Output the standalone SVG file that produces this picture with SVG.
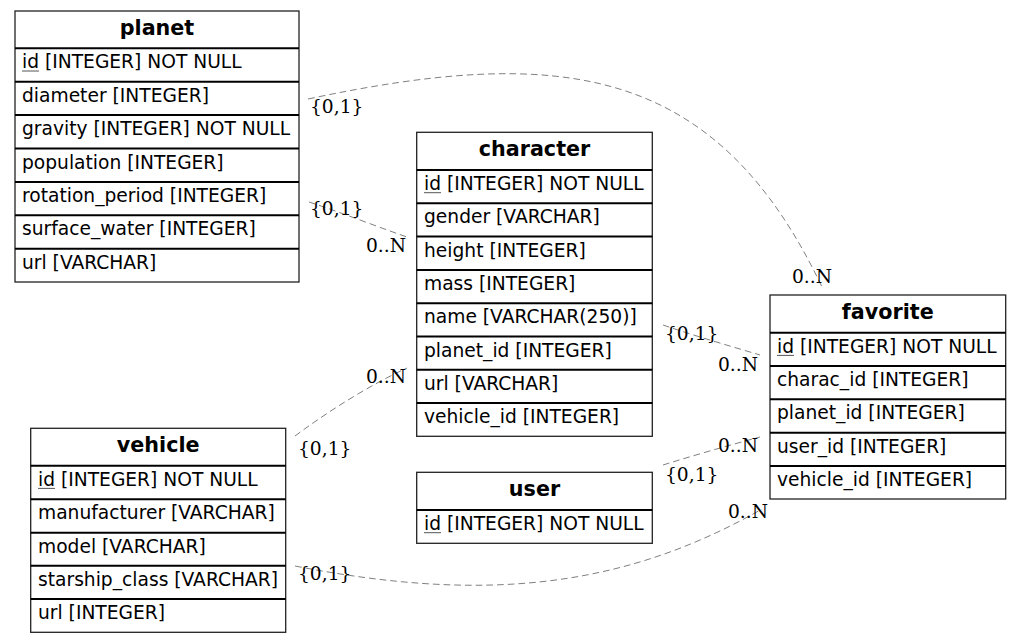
<svg xmlns="http://www.w3.org/2000/svg" width="1021" height="643" viewBox="0 0 1021 643">
<style>
.bg{fill:#ffffff}
.box{fill:#ffffff;stroke:#222222;stroke-width:1.3}
.sep{stroke:#000000;stroke-width:2}
.hd{font-family:"DejaVu Sans",Verdana,sans-serif;font-weight:bold;font-size:20.7px;fill:#000;text-anchor:middle}
.rw{font-family:"DejaVu Sans",Verdana,sans-serif;font-size:18.67px;fill:#000}
.ul{stroke:#555555;stroke-width:1}
.edge{fill:none;stroke:#808080;stroke-width:1;stroke-dasharray:6.7,4}
.lb{font-family:"DejaVu Serif","Liberation Serif",serif;font-size:18.67px;fill:#000}
</style>
<rect class="bg" x="0" y="0" width="1021" height="643"/>

<g id="connectors">
<path class="edge" d="M308,99 C558,46 715,62 822,287"/>
<path class="edge" d="M309,202 C340,212 375,226 407,237"/>
<path class="edge" d="M295,436 C330,410 370,385 407,368"/>
<path class="edge" d="M663,325 C695,336 730,346 760,355"/>
<path class="edge" d="M663,465 C695,455 730,445 760,437"/>
<path class="edge" d="M295,566 C480,602 620,590 762,509"/>
<text class="lb" x="310" y="113">{0,1}</text>
<text class="lb" x="792" y="283">0..N</text>
<text class="lb" x="310" y="215">{0,1}</text>
<text class="lb" x="366" y="252">0..N</text>
<text class="lb" x="298" y="455">{0,1}</text>
<text class="lb" x="366" y="383">0..N</text>
<text class="lb" x="665" y="340">{0,1}</text>
<text class="lb" x="718" y="371">0..N</text>
<text class="lb" x="665" y="481">{0,1}</text>
<text class="lb" x="718" y="452">0..N</text>
<text class="lb" x="298" y="580">{0,1}</text>
<text class="lb" x="728" y="518">0..N</text>
</g>

<g id="planet">
<rect class="box" x="15" y="11" width="284" height="271"/>
<line class="sep" x1="15" y1="48.3" x2="299" y2="48.3"/>
<line class="sep" x1="15" y1="81.7" x2="299" y2="81.7"/>
<line class="sep" x1="15" y1="115" x2="299" y2="115"/>
<line class="sep" x1="15" y1="148.5" x2="299" y2="148.5"/>
<line class="sep" x1="15" y1="182" x2="299" y2="182"/>
<line class="sep" x1="15" y1="215.3" x2="299" y2="215.3"/>
<line class="sep" x1="15" y1="248.7" x2="299" y2="248.7"/>
<text class="hd" x="157" y="34.5">planet</text>
<text class="rw" x="22" y="68.3">id [INTEGER] NOT NULL</text>
<line class="ul" x1="22" y1="71" x2="39" y2="71"/>
<text class="rw" x="22" y="101.7">diameter [INTEGER]</text>
<text class="rw" x="22" y="135">gravity [INTEGER] NOT NULL</text>
<text class="rw" x="22" y="168.5">population [INTEGER]</text>
<text class="rw" x="22" y="202">rotation_period [INTEGER]</text>
<text class="rw" x="22" y="235.3">surface_water [INTEGER]</text>
<text class="rw" x="22" y="268.7">url [VARCHAR]</text>
</g>

<g id="character">
<rect class="box" x="416.7" y="132.3" width="235.6" height="304"/>
<line class="sep" x1="416.7" y1="170" x2="652.3" y2="170"/>
<line class="sep" x1="416.7" y1="203.3" x2="652.3" y2="203.3"/>
<line class="sep" x1="416.7" y1="236.6" x2="652.3" y2="236.6"/>
<line class="sep" x1="416.7" y1="270" x2="652.3" y2="270"/>
<line class="sep" x1="416.7" y1="303.2" x2="652.3" y2="303.2"/>
<line class="sep" x1="416.7" y1="336.5" x2="652.3" y2="336.5"/>
<line class="sep" x1="416.7" y1="369.8" x2="652.3" y2="369.8"/>
<line class="sep" x1="416.7" y1="403.1" x2="652.3" y2="403.1"/>
<text class="hd" x="534.5" y="155.8">character</text>
<text class="rw" x="424" y="190">id [INTEGER] NOT NULL</text>
<line class="ul" x1="424" y1="192.7" x2="441" y2="192.7"/>
<text class="rw" x="424" y="223.3">gender [VARCHAR]</text>
<text class="rw" x="424" y="256.6">height [INTEGER]</text>
<text class="rw" x="424" y="290">mass [INTEGER]</text>
<text class="rw" x="424" y="323.2">name [VARCHAR(250)]</text>
<text class="rw" x="424" y="356.5">planet_id [INTEGER]</text>
<text class="rw" x="424" y="389.8">url [VARCHAR]</text>
<text class="rw" x="424" y="423.1">vehicle_id [INTEGER]</text>
</g>

<g id="favorite">
<rect class="box" x="770" y="295" width="235.7" height="204"/>
<line class="sep" x1="770" y1="332.7" x2="1005.7" y2="332.7"/>
<line class="sep" x1="770" y1="366" x2="1005.7" y2="366"/>
<line class="sep" x1="770" y1="399.3" x2="1005.7" y2="399.3"/>
<line class="sep" x1="770" y1="432.7" x2="1005.7" y2="432.7"/>
<line class="sep" x1="770" y1="466" x2="1005.7" y2="466"/>
<text class="hd" x="887.8" y="318.5">favorite</text>
<text class="rw" x="777" y="352.7">id [INTEGER] NOT NULL</text>
<line class="ul" x1="777" y1="355.4" x2="794" y2="355.4"/>
<text class="rw" x="777" y="386">charac_id [INTEGER]</text>
<text class="rw" x="777" y="419.3">planet_id [INTEGER]</text>
<text class="rw" x="777" y="452.7">user_id [INTEGER]</text>
<text class="rw" x="777" y="486">vehicle_id [INTEGER]</text>
</g>

<g id="vehicle">
<rect class="box" x="30.7" y="428.3" width="255" height="204"/>
<line class="sep" x1="30.7" y1="465.7" x2="285.7" y2="465.7"/>
<line class="sep" x1="30.7" y1="499.3" x2="285.7" y2="499.3"/>
<line class="sep" x1="30.7" y1="532.7" x2="285.7" y2="532.7"/>
<line class="sep" x1="30.7" y1="565.8" x2="285.7" y2="565.8"/>
<line class="sep" x1="30.7" y1="599" x2="285.7" y2="599"/>
<text class="hd" x="158.2" y="451.8">vehicle</text>
<text class="rw" x="38" y="485.7">id [INTEGER] NOT NULL</text>
<line class="ul" x1="38" y1="488.4" x2="55" y2="488.4"/>
<text class="rw" x="38" y="519.3">manufacturer [VARCHAR]</text>
<text class="rw" x="38" y="552.7">model [VARCHAR]</text>
<text class="rw" x="38" y="585.8">starship_class [VARCHAR]</text>
<text class="rw" x="38" y="619">url [INTEGER]</text>
</g>

<g id="user">
<rect class="box" x="416.7" y="472.3" width="235.6" height="71"/>
<line class="sep" x1="416.7" y1="510" x2="652.3" y2="510"/>
<text class="hd" x="534.5" y="495.8">user</text>
<text class="rw" x="424" y="530">id [INTEGER] NOT NULL</text>
<line class="ul" x1="424" y1="532.7" x2="441" y2="532.7"/>
</g>
</svg>
